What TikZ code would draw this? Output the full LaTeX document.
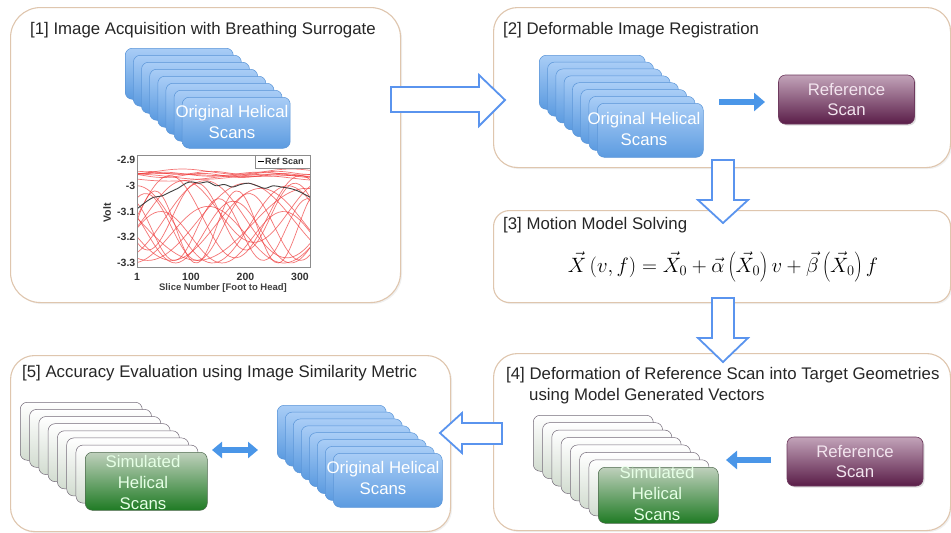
\documentclass[tikz,border=0pt]{standalone}
\usepackage{fontspec}
\setmainfont{Liberation Sans}
\usetikzlibrary{arrows.meta,shadows}
\definecolor{panelc}{HTML}{DFC6AE}
\definecolor{hollowc}{HTML}{5A94EE}
\definecolor{arrowc}{HTML}{4A96E8}
\definecolor{blueT}{HTML}{A9CDF6}
\definecolor{blueB}{HTML}{5C9BE0}
\definecolor{blueE}{HTML}{5A95D8}
\definecolor{purT}{HTML}{C2A3B9}
\definecolor{purB}{HTML}{5A1D48}
\definecolor{purE}{HTML}{6E3A5E}
\definecolor{purTx}{HTML}{F2E4EE}
\definecolor{grnT}{HTML}{BFD0BC}
\definecolor{grnB}{HTML}{1F7B24}
\definecolor{grnE}{HTML}{4E6A4E}
\definecolor{greyE}{HTML}{736A78}
\definecolor{greyB}{HTML}{D2DCD0}
\definecolor{curvec}{HTML}{F03A3A}
\begin{document}
\begin{tikzpicture}[x=1pt,y=-1pt,
  panel/.style={draw=panelc,line width=1.1pt,fill=white,anchor=north west,inner sep=0,
    drop shadow={opacity=0.12,shadow xshift=1.5pt,shadow yshift=-1.5pt}},
  ptitle/.style={anchor=west,inner sep=0,font=\fontsize{16.8}{19}\selectfont,text=black!85},
  card/.style={rounded corners=7pt,anchor=north west,inner sep=0,line width=0.5pt},
  bluecard/.style={card,top color=blueT,bottom color=blueB,draw=blueE},
  greycard/.style={card,top color=white,bottom color=greyB,draw=greyE},
  greencard/.style={card,top color=grnT,bottom color=grnB,draw=grnE},
  cardtext/.style={align=center,inner sep=0,font=\fontsize{16.8}{21}\selectfont,text=white},
  refbox/.style={rounded corners=7pt,top color=purT,bottom color=purB,draw=purE,line width=0.6pt,
    text=purTx,align=center,font=\fontsize{16.8}{20}\selectfont,minimum width=136pt,minimum height=49pt,
    drop shadow={opacity=0.25,shadow xshift=1.5pt,shadow yshift=-1.5pt}},
  hollow/.style={draw=hollowc,line width=1.8pt,fill=white,line join=miter},
  solidarrow/.style={draw=arrowc,line width=6.5pt,-{Triangle[length=11pt,width=18pt]}},
  dblarrow/.style={draw=arrowc,line width=6pt,{Triangle[length=10pt,width=16pt]}-{Triangle[length=10pt,width=16pt]}},
  tick/.style={font=\fontsize{10.5}{12}\selectfont\bfseries,text=black!80,inner sep=0},
  redcurve/.style={draw=curvec,opacity=0.7,line width=0.7pt}
]
\useasboundingbox (0,0) rectangle (951,533);

% ---------- panels ----------
\node[panel,rounded corners=30pt,minimum width=390pt,minimum height=295pt] (P1) at (10,7) {};
\node[panel,rounded corners=24pt,minimum width=457pt,minimum height=160pt] (P2) at (493,7) {};
\node[panel,rounded corners=16pt,minimum width=457pt,minimum height=92pt] (P3) at (493,210) {};
\node[panel,rounded corners=24pt,minimum width=457pt,minimum height=177pt] (P4) at (493,353) {};
\node[panel,rounded corners=24pt,minimum width=440pt,minimum height=176pt] (P5) at (10,355) {};

% ---------- titles ----------
\node[ptitle] (T1) at (30,30) {[1] Image Acquisition with Breathing Surrogate};
\node[ptitle] (T2) at (503,30) {[2] Deformable Image Registration};
\node[ptitle] (T3) at (503,225) {[3] Motion Model Solving};
\node[ptitle] (T4a) at (506,375) {[4] Deformation of Reference Scan into Target Geometries};
\node[ptitle] (T4b) at (529,396) {using Model Generated Vectors};
\node[ptitle] (T5) at (22,373) {[5] Accuracy Evaluation using Image Similarity Metric};

% ---------- hollow block arrows ----------
\draw[hollow] (391,87)--(479,87)--(479,75)--(505,100)--(479,126)--(479,112)--(391,112)--cycle;
\draw[hollow] (712,160)--(734,160)--(734,200)--(748,200)--(723,223)--(698,200)--(712,200)--cycle;
\draw[hollow] (712,298)--(734,298)--(734,338)--(748,338)--(723,362)--(698,338)--(712,338)--cycle;
\draw[hollow] (502,423)--(462,423)--(462,413)--(440,433)--(462,453)--(462,444)--(502,444)--cycle;

% ---------- stack panel 1 ----------
\foreach \i in {0,...,7}
  \node[bluecard,minimum width=108pt,minimum height=51pt] (A\i) at ({125+\i*8.14},{48+\i*7}) {};
\node[cardtext] (Atext) at (232,122) {Original Helical\\Scans};

% ---------- plot ----------
\begin{scope}
\clip (137,155) rectangle (310,267);
\begin{scope}[shift={(137,160)},x=0.545pt,y=257.5pt]
\foreach \c/\a/\k/\p in {
 -2.955/0.008/2.0/0, -2.965/0.010/1.5/90, -2.950/0.006/3.0/40, -2.970/0.012/1.2/200,
 -2.945/0.010/1.8/300, -2.960/0.008/2.5/150, -2.958/0.006/1.0/60,
 -3.15/0.15/1.3/90, -3.15/0.14/1.1/200, -3.12/0.16/1.5/0, -3.18/0.12/1.7/150,
 -3.13/0.15/1.2/300, -3.16/0.13/1.9/60, -3.14/0.15/1.0/250, -3.17/0.12/2.2/120,
 -3.10/0.12/1.4/330, -3.20/0.10/1.6/20, -3.15/0.14/0.9/170, -3.12/0.13/2.0/230,
 -3.19/0.11/1.3/280, -3.16/0.14/2.4/10}
  \draw[redcurve] plot[domain=0:318,samples=50,smooth] (\x,{\c+2.9+\a*sin(\k*\x+\p)});
\draw[black!75,line width=0.9pt] plot[smooth] coordinates {
 (0,-0.19) (15,-0.165) (30,-0.145) (45,-0.14) (60,-0.125) (75,-0.11) (90,-0.09) (100,-0.085)
 (115,-0.09) (130,-0.085) (145,-0.1) (160,-0.095) (175,-0.105) (190,-0.095) (205,-0.09)
 (220,-0.1) (235,-0.11) (250,-0.1) (265,-0.105) (280,-0.11) (295,-0.12) (318,-0.145)};
\end{scope}
\end{scope}
\draw[black!45,line width=0.5pt] (137,155) rectangle (310,267);
\node[draw=black!45,fill=white,line width=0.4pt,minimum width=55pt,minimum height=13pt,inner sep=0,anchor=north east] (Leg) at (310,155) {};
\draw[black,line width=0.8pt] (258,161.5) -- (264,161.5);
\node[anchor=west,inner sep=0,font=\fontsize{9}{10}\selectfont\bfseries,text=black!80] (LegT) at (265,161.5) {Ref Scan};
\foreach \v/\yy in {-2.9/160,-3/185.75,-3.1/211.5,-3.2/237.25,-3.3/263}
  \node[tick,anchor=east] at (135.5,\yy) {\v};
\foreach \s/\xx in {1/137,100/191,200/245.5,300/300}
  \node[tick,anchor=north] at (\xx,273) {\s};
\node[tick,rotate=90] (Ylab) at (107,213) {Volt};
\node[font=\fontsize{9.5}{11}\selectfont\bfseries,text=black!75,inner sep=0] (Xlab) at (223,288) {Slice Number [Foot to Head]};

% ---------- panel 2 ----------
\foreach \i in {0,...,7}
  \node[bluecard,minimum width=106pt,minimum height=54pt] (B\i) at ({539+\i*8.29},{55+\i*6.86}) {};
\node[cardtext] (Btext) at (644,128.5) {Original Helical\\Scans};
\node[refbox] (R2) at (846.5,99.5) {Reference\\Scan};
\coordinate (a2s) at (719,102);
\coordinate (a2e) at (765,102);
\draw[solidarrow] (a2s) -- (a2e);

% ---------- panel 3 ----------
\node[inner sep=0,font=\fontsize{20}{24}\selectfont] (Eq) at (723,267)
  {$\vec{X}\left(v,f\right)=\vec{X}_0+\vec{\alpha}\left(\vec{X}_0\right)v+\vec{\beta}\left(\vec{X}_0\right)f$};

% ---------- panel 4 ----------
\foreach \i in {0,...,6}
  \node[greycard,minimum width=120pt,minimum height=56pt] (C\i) at ({533+\i*9.29},{415+\i*7.43}) {};
\node[greencard,minimum width=120pt,minimum height=56pt] (C7) at (598,467) {};
\node[cardtext,text=white!90!green] (Ctext) at (657,493) {Simulated\\Helical\\Scans};
\node[refbox] (R4) at (855,461.5) {Reference\\Scan};
\coordinate (a4s) at (771,460);
\coordinate (a4e) at (726,460);
\draw[solidarrow] (a4s) -- (a4e);

% ---------- panel 5 ----------
\foreach \i in {0,...,6}
  \node[greycard,minimum width=122pt,minimum height=58pt] (D\i) at ({20+\i*9.29},{402+\i*7.14}) {};
\node[greencard,minimum width=122pt,minimum height=58pt] (D7) at (85,452) {};
\node[cardtext,text=white!90!green] (Dtext) at (143,482) {Simulated\\Helical\\Scans};
\foreach \i in {0,...,7}
  \node[bluecard,minimum width=109pt,minimum height=54pt] (E\i) at ({277+\i*8},{405+\i*6.86}) {};
\node[cardtext] (Etext) at (383,478) {Original Helical\\Scans};
\coordinate (d1) at (212,450);
\coordinate (d2) at (258,450);
\draw[dblarrow] (d1) -- (d2);
\end{tikzpicture}
\end{document}
